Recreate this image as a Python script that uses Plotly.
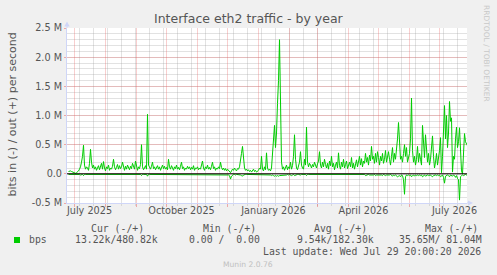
import plotly.graph_objects as go
import pandas as pd

TITLE = "Interface eth2 traffic - by year"
Y_LABEL = "bits in (-) / out (+) per second"
SIDE_TEXT = "RRDTOOL / TOBI OETIKER"
FOOTER = "Munin 2.0.76"
LAST_UPDATE = "Last update: Wed Jul 29 20:00:20 2026"
FIRST_DAY = "2025-06-25"
X_RANGE = ["2025-06-23 12:00", "2026-07-28 12:00"]

# daily "out" traffic, Mbit/s (plotted positive)
OUT_M = [
    0.04, 0.05, 0.05, 0.04, 0.03, 0.02, 0.01, 0.01, 0.02, 0.03,
    0.05, 0.08, 0.12, 0.20, 0.30, 0.49, 0.15, 0.08, 0.12, 0.10,
    0.06, 0.18, 0.42, 0.20, 0.10, 0.15, 0.08, 0.12, 0.06, 0.10,
    0.14, 0.07, 0.12, 0.18, 0.08, 0.21, 0.10, 0.05, 0.12, 0.09,
    0.15, 0.06, 0.10, 0.08, 0.13, 0.25, 0.12, 0.07, 0.11, 0.16,
    0.08, 0.14, 0.09, 0.12, 0.20, 0.10, 0.06, 0.13, 0.08, 0.15,
    0.11, 0.07, 0.13, 0.09, 0.18, 0.12, 0.08, 0.22, 0.10, 0.06,
    0.12, 0.09, 0.16, 0.50, 0.12, 0.07, 0.10, 0.14, 0.08, 1.02,
    0.15, 0.10, 0.08, 0.13, 0.20, 0.09, 0.12, 0.07, 0.10, 0.14,
    0.08, 0.12, 0.06, 0.10, 0.15, 0.09, 0.13, 0.08, 0.11, 0.07,
    0.25, 0.12, 0.08, 0.14, 0.10, 0.06, 0.12, 0.09, 0.15, 0.08,
    0.11, 0.07, 0.13, 0.20, 0.09, 0.12, 0.06, 0.10, 0.08, 0.13,
    0.09, 0.12, 0.07, 0.11, 0.08, 0.14, 0.06, 0.10, 0.09, 0.12,
    0.07, 0.10, 0.08, 0.14, 0.22, 0.10, 0.06, 0.12, 0.09, 0.15,
    0.08, 0.11, 0.07, 0.13, 0.20, 0.09, 0.12, 0.06, 0.10, 0.08,
    0.12, 0.09, 0.20, 0.11, 0.07, 0.10, 0.06, 0.09, 0.05, 0.08,
    0.06, 0.04, 0.02, 0.05, 0.08, 0.06, 0.10, 0.07, 0.05, 0.09,
    0.08, 0.12, 0.28, 0.35, 0.47, 0.30, 0.10, 0.06, 0.08, 0.05,
    0.07, 0.04, 0.06, 0.03, 0.05, 0.08, 0.04, 0.06, 0.03, 0.05,
    0.06, 0.10, 0.08, 0.30, 0.08, 0.05, 0.12, 0.07, 0.36, 0.10,
    0.06, 0.08, 0.05, 0.10, 0.30, 0.60, 0.83, 0.45, 0.70, 1.21,
    1.60, 2.30, 1.00, 0.20, 0.08, 0.12, 0.06, 0.10, 0.15, 0.07,
    0.12, 0.09, 0.20, 0.08, 0.14, 0.30, 0.67, 0.25, 0.10, 0.07,
    0.12, 0.20, 0.38, 0.15, 0.10, 0.08, 0.25, 0.15, 0.80, 0.20,
    0.12, 0.18, 0.15, 0.10, 0.16, 0.12, 0.20, 0.14, 0.10, 0.17,
    0.22, 0.38, 0.15, 0.10, 0.20, 0.12, 0.25, 0.16, 0.10, 0.18,
    0.08, 0.22, 0.14, 0.30, 0.12, 0.18, 0.07, 0.15, 0.20, 0.10,
    0.36, 0.14, 0.08, 0.20, 0.12, 0.25, 0.10, 0.16, 0.22, 0.09,
    0.14, 0.20, 0.12, 0.28, 0.10, 0.18, 0.08, 0.15, 0.24, 0.12,
    0.20, 0.30, 0.15, 0.26, 0.12, 0.22, 0.18, 0.35, 0.20, 0.28,
    0.15, 0.32, 0.22, 0.47, 0.25, 0.30, 0.18, 0.35, 0.20, 0.38,
    0.28, 0.15, 0.30, 0.22, 0.35, 0.18, 0.25, 0.40, 0.20, 0.32,
    0.38, 0.25, 0.15, 0.30, 0.45, 0.20, 0.35, 0.25, 0.40, 0.60,
    0.88, 0.40, 0.25, 0.30, 0.20, 0.35, 0.50, 0.30, 0.45, 0.20,
    0.28, 0.35, 0.60, 1.30, 0.40, 0.20, 0.30, 0.15, 0.25, 0.47,
    0.20, 0.35, 0.25, 0.15, 0.83, 0.40, 0.28, 0.67, 0.30, 0.20,
    0.35, 0.15, 0.25, 0.40, 0.65, 0.30, 0.10, 0.20, 0.35, 0.15,
    0.25, 0.40, 0.62, 0.02, 0.30, 0.80, 1.17, 0.60, 1.00, 0.45,
    0.70, 1.24, 0.90, 0.96, 0.03, 0.30, 0.25, 0.60, 0.80, 0.45,
    0.55, 0.79, 0.40, 0.05, 0.00, 0.30, 0.69, 0.55, 0.50, 0.48,
]

# daily "in" traffic, Mbit/s (plotted negative)
IN_M = [
    0.01, 0.01, 0.01, 0.01, 0.01, 0.005, 0.005, 0.01, 0.01, 0.01,
    0.01, 0.01, 0.02, 0.01, 0.01, 0.03, 0.01, 0.01, 0.01, 0.01,
    0.01, 0.01, 0.02, 0.01, 0.01, 0.01, 0.01, 0.015, 0.01, 0.01,
    0.01, 0.01, 0.01, 0.015, 0.01, 0.02, 0.01, 0.01, 0.01, 0.01,
    0.01, 0.01, 0.01, 0.01, 0.01, 0.02, 0.01, 0.01, 0.01, 0.01,
    0.01, 0.015, 0.01, 0.01, 0.02, 0.01, 0.01, 0.01, 0.01, 0.01,
    0.01, 0.01, 0.01, 0.01, 0.015, 0.01, 0.01, 0.02, 0.01, 0.01,
    0.01, 0.01, 0.01, 0.03, 0.01, 0.01, 0.01, 0.01, 0.01, 0.04,
    0.01, 0.01, 0.01, 0.01, 0.015, 0.01, 0.01, 0.01, 0.01, 0.01,
    0.01, 0.01, 0.01, 0.01, 0.01, 0.01, 0.01, 0.015, 0.01, 0.01,
    0.02, 0.01, 0.01, 0.01, 0.01, 0.01, 0.01, 0.01, 0.015, 0.01,
    0.01, 0.01, 0.01, 0.02, 0.01, 0.01, 0.01, 0.01, 0.01, 0.01,
    0.01, 0.01, 0.01, 0.01, 0.01, 0.015, 0.01, 0.01, 0.01, 0.01,
    0.01, 0.01, 0.01, 0.01, 0.02, 0.01, 0.01, 0.01, 0.01, 0.01,
    0.01, 0.01, 0.01, 0.01, 0.02, 0.01, 0.01, 0.01, 0.01, 0.01,
    0.01, 0.01, 0.02, 0.01, 0.01, 0.01, 0.01, 0.01, 0.02, 0.02,
    0.02, 0.03, 0.09, 0.04, 0.02, 0.01, 0.01, 0.02, 0.01, 0.01,
    0.01, 0.01, 0.02, 0.03, 0.04, 0.02, 0.01, 0.01, 0.01, 0.01,
    0.01, 0.01, 0.01, 0.01, 0.02, 0.01, 0.01, 0.01, 0.01, 0.01,
    0.01, 0.01, 0.01, 0.02, 0.01, 0.01, 0.01, 0.01, 0.02, 0.01,
    0.01, 0.01, 0.02, 0.03, 0.02, 0.03, 0.04, 0.03, 0.04, 0.03,
    0.04, 0.03, 0.03, 0.02, 0.02, 0.03, 0.02, 0.03, 0.02, 0.01,
    0.02, 0.01, 0.02, 0.03, 0.02, 0.01, 0.03, 0.02, 0.01, 0.01,
    0.01, 0.02, 0.02, 0.01, 0.01, 0.01, 0.02, 0.01, 0.03, 0.01,
    0.01, 0.01, 0.01, 0.02, 0.01, 0.01, 0.01, 0.02, 0.01, 0.01,
    0.01, 0.02, 0.01, 0.01, 0.01, 0.01, 0.02, 0.01, 0.01, 0.01,
    0.01, 0.01, 0.01, 0.02, 0.01, 0.01, 0.01, 0.01, 0.02, 0.01,
    0.02, 0.01, 0.01, 0.01, 0.01, 0.02, 0.01, 0.01, 0.01, 0.01,
    0.01, 0.02, 0.01, 0.02, 0.01, 0.01, 0.01, 0.01, 0.02, 0.01,
    0.02, 0.02, 0.01, 0.02, 0.01, 0.02, 0.01, 0.03, 0.02, 0.02,
    0.01, 0.02, 0.02, 0.03, 0.02, 0.02, 0.01, 0.03, 0.02, 0.02,
    0.02, 0.01, 0.02, 0.02, 0.03, 0.01, 0.02, 0.03, 0.02, 0.02,
    0.03, 0.02, 0.01, 0.02, 0.04, 0.02, 0.03, 0.02, 0.04, 0.05,
    0.04, 0.03, 0.05, 0.02, 0.03, 0.10, 0.35, 0.05, 0.02, 0.03,
    0.02, 0.03, 0.02, 0.05, 0.03, 0.02, 0.04, 0.02, 0.03, 0.02,
    0.03, 0.02, 0.03, 0.02, 0.05, 0.03, 0.02, 0.04, 0.03, 0.02,
    0.03, 0.02, 0.02, 0.04, 0.05, 0.03, 0.02, 0.02, 0.03, 0.02,
    0.03, 0.02, 0.05, 0.03, 0.02, 0.06, 0.16, 0.04, 0.03, 0.02,
    0.03, 0.05, 0.02, 0.03, 0.04, 0.02, 0.03, 0.06, 0.03, 0.08,
    0.10, 0.45, 0.05, 0.03, 0.02, 0.03, 0.02, 0.01, 0.02, 0.01,
]

Y_TICKS = [-0.5e6, 0.0, 0.5e6, 1.0e6, 1.5e6, 2.0e6, 2.5e6]
Y_TICK_TEXT = ["-0.5 M", "0.0", "0.5 M", "1.0 M", "1.5 M", "2.0 M", "2.5 M"]
X_LABEL_DATES = ["2025-07-16", "2025-10-16", "2026-01-16", "2026-04-16", "2026-07-16"]
X_LABEL_TEXT = ["July 2025", "October 2025", "January 2026", "April 2026", "July 2026"]

LEGEND_HEADERS = ["Cur (-/+)", "Min (-/+)", "Avg (-/+)", "Max (-/+)"]
LEGEND_NAME = "bps"
LEGEND_VALUES = ["13.22k/480.82k", "0.00 /  0.00", "9.54k/182.30k", "35.65M/ 81.04M"]

GREEN = "#00CC00"
FONT_C = "#555555"
GRID_C = "rgba(150,150,150,0.28)"
MGRID_C = "rgba(233,95,95,0.30)"
AXIS_C = "#CFD6F8"
BACK = "#F0F0F0"

W, H = 497, 275
L, R, T, B = 67, 30, 28, 72
PW, PH = W - L - R, H - T - B


def px(x):
    return (x - L) / PW


def py(y):
    return (T + PH - y) / PH


dates = pd.date_range(FIRST_DAY, periods=len(OUT_M), freq="D")
month_starts = pd.date_range("2025-07-01", "2026-07-01", freq="MS")
biweekly = pd.date_range("2025-07-06", "2026-07-28", freq="14D")

fig = go.Figure()
fig.add_trace(go.Scatter(x=dates, y=[-v * 1e6 for v in IN_M], mode="lines",
                         line=dict(color=GREEN, width=1), hoverinfo="skip"))
fig.add_trace(go.Scatter(x=dates, y=[v * 1e6 for v in OUT_M], mode="lines",
                         line=dict(color=GREEN, width=1), hoverinfo="skip"))
fig.add_trace(go.Scatter(x=X_RANGE, y=[0, 0], xaxis="x2", mode="lines",
                         line=dict(width=0, color="rgba(0,0,0,0)"), hoverinfo="skip"))

fig.update_layout(
    width=W, height=H,
    margin=dict(l=L, r=R, t=T, b=B, pad=0),
    paper_bgcolor=BACK, plot_bgcolor="#FFFFFF",
    showlegend=False,
    font=dict(family="DejaVu Sans", color=FONT_C),
    xaxis=dict(
        type="date", range=X_RANGE, tickmode="array", tickvals=list(month_starts),
        showticklabels=False, showgrid=True, gridcolor=MGRID_C,
        gridwidth=1, ticks="outside", ticklen=3, tickcolor="rgba(233,95,95,0.5)",
        showline=True, linecolor=AXIS_C, linewidth=1, zeroline=False,
        minor=dict(tickmode="array", tickvals=list(biweekly), showgrid=True,
                   gridcolor=GRID_C, ticks="outside",
                   ticklen=2, tickcolor=GRID_C),
    ),
    xaxis2=dict(
        type="date", range=X_RANGE, overlaying="x", anchor="y", side="bottom",
        tickmode="array", tickvals=X_LABEL_DATES, ticktext=X_LABEL_TEXT,
        showgrid=False, ticks="", showline=False, zeroline=False,
        tickfont=dict(family="DejaVu Sans", size=9.7, color=FONT_C),
    ),
    yaxis=dict(
        range=[-0.5e6, 2.5e6], tickmode="array", tickvals=Y_TICKS, ticktext=Y_TICK_TEXT,
        showgrid=True, gridcolor=MGRID_C, gridwidth=1,
        ticks="outside", ticklen=2, tickcolor="rgba(233,95,95,0.5)",
        minor=dict(tickmode="linear", tick0=0, dtick=0.1e6, showgrid=True,
                   gridcolor=GRID_C),
        showline=True, linecolor=AXIS_C, linewidth=1, zeroline=False,
        tickfont=dict(family="DejaVu Sans", size=9.7, color=FONT_C),
    ),
)

shapes = [
    # zero rule
    dict(type="line", xref="paper", yref="y", x0=0, x1=1, y0=0, y1=0,
         line=dict(color="#000000", width=1), layer="above"),
    # axis arrows
    dict(type="path", xref="paper", yref="paper",
         path=f"M {px(64.3)},{py(26.5)} L {px(69.7)},{py(26.5)} L {px(67)},{py(21.5)} Z",
         fillcolor=AXIS_C, line=dict(width=0), layer="above"),
    dict(type="line", xref="paper", yref="paper", x0=px(67), x1=px(67), y0=py(28), y1=py(26),
         line=dict(color=AXIS_C, width=1)),
    dict(type="path", xref="paper", yref="paper",
         path=f"M {px(468)},{py(200.5)} L {px(468)},{py(205.5)} L {px(473)},{py(203)} Z",
         fillcolor=AXIS_C, line=dict(width=0), layer="above"),
    dict(type="line", xref="paper", yref="paper", x0=px(467), x1=px(468.5), y0=py(203), y1=py(203),
         line=dict(color=AXIS_C, width=1)),
    # legend swatch
    dict(type="rect", xref="paper", yref="paper", x0=px(14), x1=px(20), y0=py(243), y1=py(237),
         fillcolor=GREEN, line=dict(width=0)),
]
fig.update_layout(shapes=shapes)

ann = []


def text(x, y, s, size, color=FONT_C, family="DejaVu Sans", xanchor="left", angle=0):
    ann.append(dict(x=px(x), y=py(y), xref="paper", yref="paper", text=s, showarrow=False,
                    xanchor=xanchor, yanchor="middle", textangle=angle,
                    font=dict(family=family, size=size, color=color)))


text(249, 18.5, TITLE, 12.5, xanchor="center")
text(11.5, 115, Y_LABEL, 11, xanchor="center", angle=-90)
text(487, 53, SIDE_TEXT, 7.5, color="#C8C8C8", xanchor="center", angle=90)
MONO = "DejaVu Sans Mono"
for hx, h in zip([89.3, 200.7, 312, 423], LEGEND_HEADERS):
    text(hx, 228, h, 9.8, family=MONO)
text(26.7, 239.5, LEGEND_NAME, 9.8, family=MONO)
for vx, v in zip([72.7, 186.7, 295, 397], LEGEND_VALUES):
    text(vx, 239.5, v, 9.8, family=MONO)
text(482.5, 251, LAST_UPDATE, 9.8, family=MONO, xanchor="right")
text(248, 264.5, FOOTER, 7.6, color="#C0C0C0", xanchor="center")
fig.update_layout(annotations=ann)

fig.write_html("out.html")
